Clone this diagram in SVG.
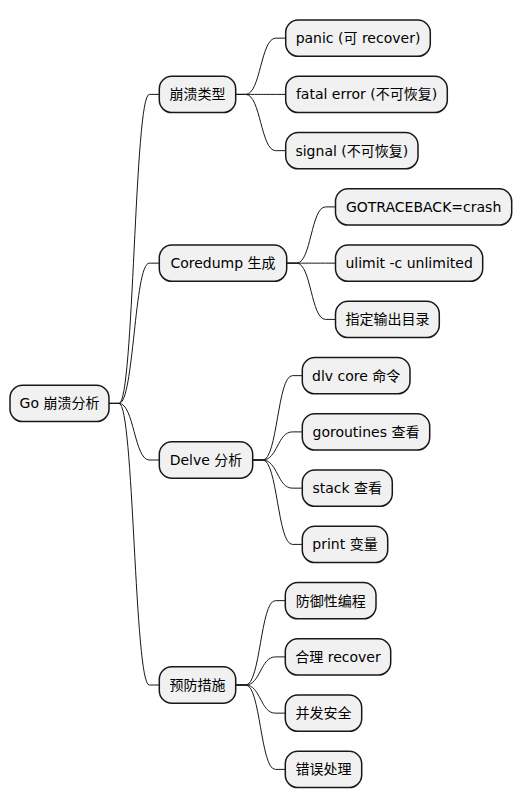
<svg xmlns="http://www.w3.org/2000/svg" width="522" height="809" viewBox="0 0 522 809">
<style>
.box{fill:#F1F1F1;stroke:#181818;stroke-width:1.5}
.t{font-family:"DejaVu Sans","Noto Sans CJK SC",sans-serif;font-size:14px;fill:#000;text-anchor:middle}
.e{fill:none;stroke:#181818;stroke-width:1}
</style>
<rect width="522" height="809" fill="#FFFFFF"/>
<g id="connectors">
<path class="e" d="M109,403.4 H119 C134,403.4 134.3,94.4 149.3,94.4 H159.3"/>
<path class="e" d="M109,403.4 H119 C134,403.4 134.3,263.15 149.3,263.15 H159.3"/>
<path class="e" d="M109,403.4 H119 C134,403.4 134.3,460 149.3,460 H159.3"/>
<path class="e" d="M109,403.4 H119 C134,403.4 134.3,685 149.3,685 H159.3"/>
<path class="e" d="M235.7,94.4 H245.7 C260.7,94.4 260.7,38.15 275.7,38.15 H285.7"/>
<path class="e" d="M235.7,94.4 H245.7 C260.7,94.4 260.7,94.4 275.7,94.4 H285.7"/>
<path class="e" d="M235.7,94.4 H245.7 C260.7,94.4 260.7,150.65 275.7,150.65 H285.7"/>
<path class="e" d="M286.7,263.15 H296.7 C311.1,263.15 311.1,206.9 325.5,206.9 H335.5"/>
<path class="e" d="M286.7,263.15 H296.7 C311.1,263.15 311.1,263.15 325.5,263.15 H335.5"/>
<path class="e" d="M286.7,263.15 H296.7 C311.1,263.15 311.1,319.4 325.5,319.4 H335.5"/>
<path class="e" d="M252.7,460 H262.7 C277.5,460 277.5,375.65 292.3,375.65 H302.3"/>
<path class="e" d="M252.7,460 H262.7 C277.5,460 277.5,431.9 292.3,431.9 H302.3"/>
<path class="e" d="M252.7,460 H262.7 C277.5,460 277.5,488.15 292.3,488.15 H302.3"/>
<path class="e" d="M252.7,460 H262.7 C277.5,460 277.5,544.4 292.3,544.4 H302.3"/>
<path class="e" d="M235.7,685 H245.7 C260.5,685 260.5,600.65 275.3,600.65 H285.3"/>
<path class="e" d="M235.7,685 H245.7 C260.5,685 260.5,656.9 275.3,656.9 H285.3"/>
<path class="e" d="M235.7,685 H245.7 C260.5,685 260.5,713.15 275.3,713.15 H285.3"/>
<path class="e" d="M235.7,685 H245.7 C260.5,685 260.5,769.4 275.3,769.4 H285.3"/>
</g>
<g id="root"><rect class="box" x="10" y="385.25" width="99" height="36.3" rx="12.5"/><text class="t" x="59.5" y="408.4">Go 崩溃分析</text></g>
<g id="n1"><rect class="box" x="159.3" y="76.25" width="76.4" height="36.3" rx="12.5"/><text class="t" x="197.5" y="99.4">崩溃类型</text></g>
<g id="n1a"><rect class="box" x="285.7" y="20" width="144.6" height="36.3" rx="12.5"/><text class="t" x="358" y="43.15">panic (可 recover)</text></g>
<g id="n1b"><rect class="box" x="285.7" y="76.25" width="161.6" height="36.3" rx="12.5"/><text class="t" x="366.5" y="99.4">fatal error (不可恢复)</text></g>
<g id="n1c"><rect class="box" x="285.7" y="132.5" width="132.3" height="36.3" rx="12.5"/><text class="t" x="351.85" y="155.65">signal (不可恢复)</text></g>
<g id="n2"><rect class="box" x="159.3" y="245" width="127.4" height="36.3" rx="12.5"/><text class="t" x="223" y="268.15">Coredump 生成</text></g>
<g id="n2a"><rect class="box" x="335.5" y="188.75" width="176.2" height="36.3" rx="12.5"/><text class="t" x="423.6" y="211.9">GOTRACEBACK=crash</text></g>
<g id="n2b"><rect class="box" x="335.5" y="245" width="147.2" height="36.3" rx="12.5"/><text class="t" x="409.1" y="268.15">ulimit -c unlimited</text></g>
<g id="n2c"><rect class="box" x="335.5" y="301.25" width="103.8" height="36.3" rx="12.5"/><text class="t" x="387.4" y="324.4">指定输出目录</text></g>
<g id="n3"><rect class="box" x="159.3" y="441.85" width="93.4" height="36.3" rx="12.5"/><text class="t" x="206" y="465">Delve 分析</text></g>
<g id="n3a"><rect class="box" x="302.3" y="357.5" width="107.7" height="36.3" rx="12.5"/><text class="t" x="356.15" y="380.65">dlv core 命令</text></g>
<g id="n3b"><rect class="box" x="302.3" y="413.75" width="127.4" height="36.3" rx="12.5"/><text class="t" x="366" y="436.9">goroutines 查看</text></g>
<g id="n3c"><rect class="box" x="302.3" y="470" width="90" height="36.3" rx="12.5"/><text class="t" x="347.3" y="493.15">stack 查看</text></g>
<g id="n3d"><rect class="box" x="302.3" y="526.25" width="85.4" height="36.3" rx="12.5"/><text class="t" x="345" y="549.4">print 变量</text></g>
<g id="n4"><rect class="box" x="159.3" y="666.85" width="76.4" height="36.3" rx="12.5"/><text class="t" x="197.5" y="690">预防措施</text></g>
<g id="n4a"><rect class="box" x="285.3" y="582.5" width="90.7" height="36.3" rx="12.5"/><text class="t" x="330.65" y="605.65">防御性编程</text></g>
<g id="n4b"><rect class="box" x="285.3" y="638.75" width="105.4" height="36.3" rx="12.5"/><text class="t" x="338" y="661.9">合理 recover</text></g>
<g id="n4c"><rect class="box" x="285.3" y="695" width="76.4" height="36.3" rx="12.5"/><text class="t" x="323.5" y="718.15">并发安全</text></g>
<g id="n4d"><rect class="box" x="285.3" y="751.25" width="76.4" height="36.3" rx="12.5"/><text class="t" x="323.5" y="774.4">错误处理</text></g>
</svg>
